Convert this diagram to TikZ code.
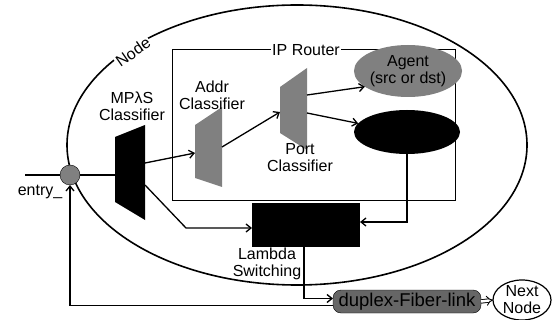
\documentclass[tikz,border=0pt]{standalone}
\usepackage{fontspec}
\setmainfont{Liberation Sans}
\usetikzlibrary{arrows.meta, shapes.geometric, positioning}

\begin{document}
\begin{tikzpicture}[
    x=1pt, y=-1pt,
    font=\fontsize{16}{17}\selectfont,
    slot/.style={inner sep=0pt, outer sep=0pt},
    lbl/.style={align=center, inner sep=1pt},
    grayfill/.style={fill=black!50},
    ln/.style={line width=1.3pt},
    ar/.style={-{Straight Barb[length=5pt, width=8pt]}, line width=1.3pt}
]
\useasboundingbox (0,0) rectangle (553,320);
% node boundary and router box
\node[draw, ellipse, line width=1.6pt, minimum width=460pt, minimum height=280pt, slot] (nodeell) at (297,145) {};
\node[lbl, fill=white, rotate=35] (nodelbl) at (133,52) {Node};
\node[draw, line width=1pt, minimum width=283pt, minimum height=150pt, slot] (router) at (313.5,125) {};
\node[lbl, fill=white] (routerlbl) at (306,50) {IP Router};
% classifiers (trapezoids)
\node[slot, minimum width=30pt, minimum height=95pt] (mpls) at (130,172.5) {};
\fill (mpls.north east) -- (mpls.south east) -- ([yshift=18pt]mpls.south west) -- ([yshift=-12pt]mpls.north west) -- cycle;
\node[lbl] (mplslbl) at (132,106) {MPλS\\Classifier};
\node[slot, minimum width=27pt, minimum height=80pt] (addr) at (208.5,147) {};
\fill[grayfill] (addr.north east) -- (addr.south east) -- ([yshift=9pt]addr.south west) -- ([yshift=-18pt]addr.north west) -- cycle;
\node[lbl] (addrlbl) at (212,95) {Addr\\Classifier};
\node[slot, minimum width=27pt, minimum height=82pt] (port) at (293.5,109) {};
\fill[grayfill] (port.north east) -- (port.south east) -- ([yshift=17pt]port.south west) -- ([yshift=-19pt]port.north west) -- cycle;
\node[lbl] (portlbl) at (300,158) {Port\\Classifier};
% agents and switching
\node[ellipse, grayfill, minimum width=106pt, minimum height=52pt, slot, align=center] (agent) at (408,71) {Agent\\(src or dst)};
\node[ellipse, fill=black, minimum width=106pt, minimum height=44pt, slot] (sink) at (407,132) {};
\node[fill=black, minimum width=108pt, minimum height=44pt, slot] (lambda) at (306,225) {};
\node[lbl] (lambdalbl) at (267,264) {Lambda\\Switching};
% entry, fiber, next node
\node[circle, draw, fill=black!50, minimum size=20pt, slot] (entry) at (70,175) {};
\coordinate (entryin) at (25,175);
\node[lbl] (entrylbl) at (40,192) {entry\_};
\node[draw, fill=black!60, rounded corners=8pt, minimum width=148pt, minimum height=23pt, slot,
      font=\fontsize{18.5}{19}\selectfont] (fiber) at (407,301.5) {duplex-Fiber-link};
\node[draw, ellipse, fill=white, line width=1.2pt, minimum width=58pt, minimum height=40pt, slot, align=center] (next) at (522,300) {Next\\Node};
% connectors
\draw[ln] (entryin) -- (entry);
\draw[ln] (entry.east) -- (entry.east -| mpls.west);
\draw[ar] ([yshift=9.5pt]mpls.east) -- ([yshift=-6pt]addr.west);
\draw[ar] (addr.east) -- ([yshift=-3pt]port.west);
\draw[ar] ([yshift=14pt]port.east) -- (agent.200);
\draw[ar] ([yshift=-4pt]port.east) -- (sink.170);
\draw[ar] ([yshift=-12.5pt]mpls.east) -- ++(41,43) -- ([yshift=-3pt]lambda.west);
\draw[ar] (sink.south) |- ([yshift=3pt]lambda.east);
\draw[ar] ([xshift=-2pt]lambda.south) |- ([yshift=3pt]fiber.west);
\draw[ar] ([yshift=-4pt]fiber.west) -| (entry.south);
\draw[double, double distance=2.5pt, line width=0.9pt, -{Implies}] (fiber.east) -- (next.west);
\end{tikzpicture}
\end{document}
